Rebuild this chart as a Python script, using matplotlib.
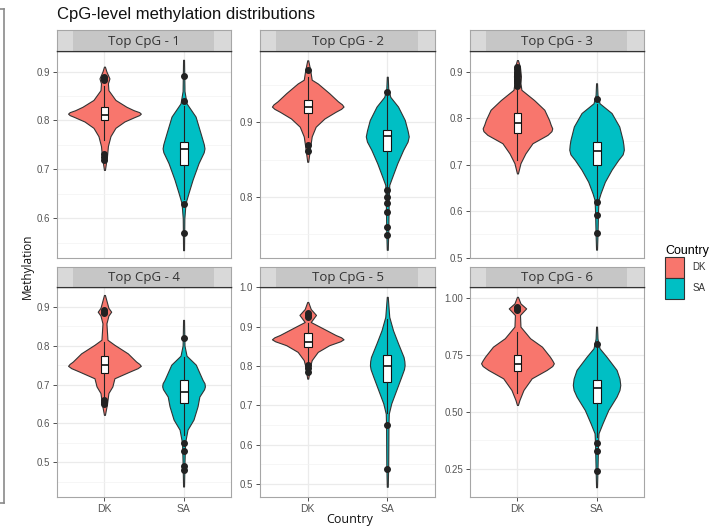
import matplotlib
matplotlib.use('Agg')
import matplotlib.pyplot as plt
from matplotlib.patches import Patch, Rectangle
from matplotlib.lines import Line2D

W, H = 727, 528

# ---------------- data ----------------
countries = ['DK', 'SA']
fill_colors = ['#F8766D', '#00BFC4']
panel_titles = ['Top CpG - 1', 'Top CpG - 2', 'Top CpG - 3',
                'Top CpG - 4', 'Top CpG - 5', 'Top CpG - 6']

# violin outlines: methylation value (y) and half-width (x units)
p1_dk_y = [0.699, 0.727, 0.748, 0.768, 0.785, 0.798, 0.807, 0.811, 0.814, 0.817, 0.821, 0.828, 0.842, 0.862, 0.876, 0.886, 0.900, 0.910]
p1_dk_w = [0.006, 0.032, 0.044, 0.076, 0.139, 0.253, 0.38, 0.44, 0.46, 0.44, 0.37, 0.278, 0.139, 0.05, 0.044, 0.063, 0.025, 0.006]
p1_sa_y = [0.535, 0.600, 0.631, 0.652, 0.679, 0.713, 0.735, 0.743, 0.752, 0.774, 0.808, 0.835, 0.860, 0.924]
p1_sa_w = [0.006, 0.010, 0.025, 0.063, 0.114, 0.19, 0.255, 0.265, 0.255, 0.215, 0.152, 0.038, 0.012, 0.006]

p2_dk_y = [0.847, 0.867, 0.881, 0.894, 0.905, 0.914, 0.918, 0.921, 0.924, 0.928, 0.939, 0.952, 0.957, 0.970, 0.983]
p2_dk_w = [0.006, 0.031, 0.05, 0.10, 0.21, 0.35, 0.42, 0.45, 0.43, 0.38, 0.27, 0.126, 0.05, 0.031, 0.006]
p2_sa_y = [0.729, 0.750, 0.800, 0.816, 0.827, 0.845, 0.863, 0.874, 0.881, 0.889, 0.903, 0.921, 0.934, 0.945, 0.961]
p2_sa_w = [0.006, 0.012, 0.019, 0.025, 0.063, 0.126, 0.20, 0.255, 0.27, 0.255, 0.22, 0.135, 0.038, 0.012, 0.006]

p3_dk_y = [0.681, 0.703, 0.724, 0.746, 0.764, 0.772, 0.778, 0.786, 0.796, 0.818, 0.839, 0.861, 0.875, 0.890, 0.910, 0.925]
p3_dk_w = [0.006, 0.038, 0.10, 0.19, 0.38, 0.43, 0.44, 0.42, 0.40, 0.34, 0.21, 0.05, 0.038, 0.044, 0.032, 0.006]
p3_sa_y = [0.517, 0.550, 0.600, 0.624, 0.638, 0.663, 0.689, 0.710, 0.722, 0.732, 0.742, 0.753, 0.782, 0.811, 0.832, 0.850, 0.875]
p3_sa_w = [0.006, 0.012, 0.019, 0.025, 0.05, 0.105, 0.19, 0.274, 0.33, 0.345, 0.34, 0.33, 0.287, 0.19, 0.038, 0.012, 0.006]

p4_dk_y = [0.622, 0.650, 0.678, 0.695, 0.716, 0.733, 0.742, 0.748, 0.753, 0.759, 0.780, 0.802, 0.815, 0.857, 0.877, 0.887, 0.897, 0.930]
p4_dk_w = [0.006, 0.032, 0.05, 0.10, 0.126, 0.316, 0.42, 0.46, 0.44, 0.40, 0.295, 0.126, 0.038, 0.025, 0.05, 0.085, 0.05, 0.006]
p4_sa_y = [0.438, 0.500, 0.550, 0.584, 0.610, 0.644, 0.669, 0.688, 0.695, 0.703, 0.712, 0.751, 0.774, 0.800, 0.866]
p4_sa_w = [0.006, 0.012, 0.019, 0.05, 0.126, 0.177, 0.20, 0.26, 0.27, 0.265, 0.24, 0.155, 0.038, 0.012, 0.006]

p5_dk_y = [0.768, 0.800, 0.815, 0.836, 0.853, 0.863, 0.868, 0.873, 0.879, 0.896, 0.912, 0.930, 0.945, 0.963]
p5_dk_w = [0.006, 0.031, 0.05, 0.126, 0.27, 0.41, 0.45, 0.42, 0.35, 0.19, 0.038, 0.104, 0.038, 0.006]
p5_sa_y = [0.493, 0.550, 0.650, 0.679, 0.705, 0.739, 0.773, 0.792, 0.802, 0.812, 0.823, 0.858, 0.891, 0.925, 0.976]
p5_sa_w = [0.006, 0.012, 0.015, 0.019, 0.05, 0.113, 0.176, 0.21, 0.218, 0.215, 0.205, 0.135, 0.072, 0.025, 0.006]

p6_dk_y = [0.529, 0.551, 0.595, 0.646, 0.683, 0.700, 0.712, 0.725, 0.741, 0.785, 0.822, 0.873, 0.924, 0.953, 0.975, 1.004]
p6_dk_w = [0.006, 0.025, 0.076, 0.18, 0.37, 0.44, 0.46, 0.44, 0.41, 0.31, 0.16, 0.038, 0.032, 0.11, 0.038, 0.006]
p6_sa_y = [0.168, 0.250, 0.360, 0.405, 0.449, 0.507, 0.566, 0.595, 0.617, 0.645, 0.683, 0.741, 0.778, 0.820, 0.873]
p6_sa_w = [0.006, 0.012, 0.019, 0.025, 0.076, 0.148, 0.253, 0.29, 0.30, 0.29, 0.253, 0.126, 0.038, 0.012, 0.006]

# boxplot statistics per panel (panels 1..6)
dk_q1 = [0.801, 0.912, 0.769, 0.729, 0.849, 0.680]
dk_med = [0.811, 0.921, 0.790, 0.750, 0.862, 0.709]
dk_q3 = [0.828, 0.930, 0.810, 0.772, 0.883, 0.749]
dk_wlo = [0.760, 0.880, 0.710, 0.670, 0.810, 0.580]
dk_whi = [0.870, 0.960, 0.860, 0.810, 0.910, 0.850]
sa_q1 = [0.709, 0.861, 0.699, 0.652, 0.760, 0.539]
sa_med = [0.741, 0.881, 0.730, 0.680, 0.800, 0.603]
sa_q3 = [0.757, 0.890, 0.749, 0.712, 0.828, 0.639]
sa_wlo = [0.640, 0.815, 0.625, 0.570, 0.680, 0.390]
sa_whi = [0.830, 0.935, 0.830, 0.770, 0.920, 0.780]

# outliers
p1_dk_out = [0.720, 0.726, 0.732, 0.883, 0.886, 0.889]
p1_sa_out = [0.570, 0.630, 0.840, 0.890]
p2_dk_out = [0.861, 0.870, 0.970]
p2_sa_out = [0.749, 0.760, 0.780, 0.792, 0.800, 0.809, 0.940]
p3_dk_out = [0.870, 0.875, 0.880, 0.885, 0.890, 0.895, 0.900, 0.905, 0.910]
p3_sa_out = [0.552, 0.592, 0.620, 0.841]
p4_dk_out = [0.650, 0.655, 0.661, 0.883, 0.887, 0.891]
p4_sa_out = [0.480, 0.490, 0.530, 0.550, 0.819]
p5_dk_out = [0.785, 0.794, 0.802, 0.925, 0.930, 0.935]
p5_sa_out = [0.539, 0.650]
p6_dk_out = [0.945, 0.950, 0.955, 0.960]
p6_sa_out = [0.241, 0.329, 0.361, 0.797]

# axes ranges and ticks
y_limits = [(0.519, 0.942), (0.718, 0.9955), (0.499, 0.9445),
            (0.411, 0.9505), (0.467, 1.001), (0.126, 1.047)]
y_ticks = [[0.6, 0.7, 0.8, 0.9], [0.8, 0.9], [0.5, 0.6, 0.7, 0.8, 0.9],
           [0.5, 0.6, 0.7, 0.8, 0.9], [0.5, 0.6, 0.7, 0.8, 0.9, 1.0],
           [0.25, 0.50, 0.75, 1.00]]
y_ticklabels = [['0.6', '0.7', '0.8', '0.9'], ['0.8', '0.9'],
                ['0.5', '0.6', '0.7', '0.8', '0.9'],
                ['0.5', '0.6', '0.7', '0.8', '0.9'],
                ['0.5', '0.6', '0.7', '0.8', '0.9', '1.0'],
                ['0.25', '0.50', '0.75', '1.00']]
y_minor = [[0.55, 0.65, 0.75, 0.85], [0.75, 0.85, 0.95], [0.55, 0.65, 0.75, 0.85],
           [0.45, 0.55, 0.65, 0.75, 0.85], [0.55, 0.65, 0.75, 0.85, 0.95],
           [0.125, 0.375, 0.625, 0.875]]

violins = [
    [(p1_dk_y, p1_dk_w), (p1_sa_y, p1_sa_w)],
    [(p2_dk_y, p2_dk_w), (p2_sa_y, p2_sa_w)],
    [(p3_dk_y, p3_dk_w), (p3_sa_y, p3_sa_w)],
    [(p4_dk_y, p4_dk_w), (p4_sa_y, p4_sa_w)],
    [(p5_dk_y, p5_dk_w), (p5_sa_y, p5_sa_w)],
    [(p6_dk_y, p6_dk_w), (p6_sa_y, p6_sa_w)],
]
outliers = [(p1_dk_out, p1_sa_out), (p2_dk_out, p2_sa_out), (p3_dk_out, p3_sa_out),
            (p4_dk_out, p4_sa_out), (p5_dk_out, p5_sa_out), (p6_dk_out, p6_sa_out)]

# ---------------- layout ----------------
fig = plt.figure(figsize=(W / 100, H / 100), dpi=100)


def rect(x0, y0, x1, y1):
    return [x0 / W, 1 - y1 / H, (x1 - x0) / W, (y1 - y0) / H]


cols = [(57, 231), (260, 435), (470, 644)]
rows = [((30, 51), (51, 258)), ((267, 287), (287, 497))]
SANS = ['Liberation Sans', 'DejaVu Sans']
STRIP = ['Open Sans', 'DejaVu Sans']

for i in range(6):
    r, c = divmod(i, 3)
    x0, x1 = cols[c]
    (s0, s1), (p0, p1) = rows[r]
    ax = fig.add_axes(rect(x0, p0, x1, p1))
    ax.set_xlim(0.4, 2.6)
    ax.set_ylim(*y_limits[i])
    ax.set_xticks([1, 2])
    ax.set_yticks(y_ticks[i])
    ax.set_yticklabels(y_ticklabels[i], family=SANS)
    ax.set_yticks(y_minor[i], minor=True)
    ax.tick_params(axis='y', which='minor', length=0)
    ax.grid(which='major', color='#EBEBEB', lw=0.9)
    ax.grid(which='minor', axis='y', color='#F3F3F3', lw=0.5)
    ax.set_axisbelow(True)
    ax.tick_params(axis='both', which='major', length=3, width=0.6, color='#333333',
                   labelsize=7, labelcolor='#555555', pad=2)
    if r == 0:
        ax.tick_params(axis='x', length=0, labelbottom=False)
    else:
        ax.set_xticklabels(countries, family=SANS)
        ax.tick_params(axis='x', labelsize=7.5)
    for sp in ax.spines.values():
        sp.set_color('#A6A6A6')
        sp.set_linewidth(0.8)
    ax.spines['top'].set_color('#333333')
    ax.spines['top'].set_linewidth(1.0)

    stats = []
    for k in range(2):
        vy, vw = violins[i][k]
        xc = k + 1
        ax.fill_betweenx(vy, [xc - w for w in vw], [xc + w for w in vw],
                         facecolor=fill_colors[k], edgecolor='#333333', lw=0.8,
                         joinstyle='round', zorder=2)
    stats.append(dict(med=dk_med[i], q1=dk_q1[i], q3=dk_q3[i], whislo=dk_wlo[i],
                      whishi=dk_whi[i], fliers=outliers[i][0]))
    stats.append(dict(med=sa_med[i], q1=sa_q1[i], q3=sa_q3[i], whislo=sa_wlo[i],
                      whishi=sa_whi[i], fliers=outliers[i][1]))
    ax.bxp(stats, positions=[1, 2], widths=0.1, patch_artist=True, showcaps=False,
           boxprops=dict(facecolor='white', edgecolor='#111111', lw=0.8),
           medianprops=dict(color='#111111', lw=1.2),
           whiskerprops=dict(color='#222222', lw=0.8),
           flierprops=dict(marker='o', markerfacecolor='#222222', markeredgecolor='#222222',
                           markersize=4),
           manage_ticks=False, zorder=3)

    sax = fig.add_axes(rect(x0, s0, x1, s1))
    sax.set_facecolor('#D9D9D9')
    sax.set_xticks([])
    sax.set_yticks([])
    sax.add_patch(Rectangle((0.09, 0), 0.81, 1, transform=sax.transAxes,
                            facecolor='#C6C6C6', edgecolor='none'))
    for sp in sax.spines.values():
        sp.set_color('#A6A6A6')
        sp.set_linewidth(0.8)
    sax.spines['bottom'].set_color('#333333')
    sax.text(0.5, 0.45, panel_titles[i], transform=sax.transAxes, ha='center', va='center',
             fontsize=9.5, color='#333333', family=STRIP)

fig.text(57 / W, 1 - 14 / H, 'CpG-level methylation distributions', fontsize=12,
         ha='left', va='center', family=SANS, color='#111111')
fig.text(27 / W, 1 - 266 / H, 'Methylation', rotation=90, fontsize=8.5,
         ha='center', va='center', family=STRIP, color='#111111')
fig.text(350 / W, 1 - 519 / H, 'Country', fontsize=9, ha='center', va='center',
         family=STRIP, color='#111111')

handles = [Patch(facecolor=fill_colors[k], edgecolor='#333333', lw=0.8, label=countries[k])
           for k in range(2)]
leg = fig.legend(handles=handles, title='Country', loc='upper left',
                 bbox_to_anchor=(665 / W, 1 - 245 / H), frameon=False,
                 prop=dict(family=SANS, size=7), title_fontproperties=dict(family=SANS, size=9),
                 handlelength=2.0, handleheight=2.95, labelspacing=0.0, handletextpad=0.8,
                 borderaxespad=0, borderpad=0, alignment='left')
for t in leg.get_texts():
    t.set_color('#333333')

# screenshot border on the left edge
fig.add_artist(Line2D([4 / W, 4 / W], [1 - 9 / H, 1 - 503 / H], color='#8A8A8A', lw=1.2))
fig.add_artist(Line2D([0, 4 / W], [1 - 503 / H, 1 - 503 / H], color='#8A8A8A', lw=1.2))
fig.add_artist(Line2D([0, 4 / W], [1 - 9 / H, 1 - 9 / H], color='#8A8A8A', lw=1.2))

fig.savefig('out.png', dpi=100)
